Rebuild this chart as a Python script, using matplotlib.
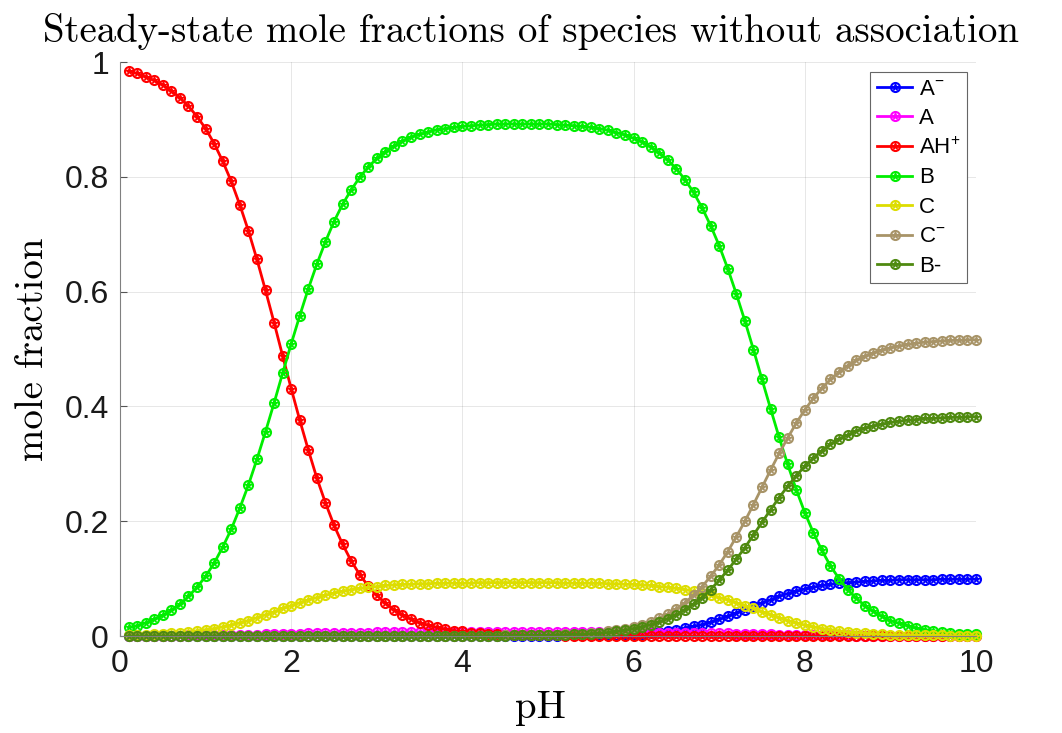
import numpy as np
import matplotlib
matplotlib.use("Agg")
import matplotlib.pyplot as plt
from matplotlib.legend_handler import HandlerTuple

# pH grid of the simulation: 0.1, 0.2, ..., 10
ph = np.round(np.arange(1, 101) * 0.1, 1)

# mole fractions, in thousandths
a_minus = [0] * 51 + [1, 1, 1, 1, 1, 2, 2, 3, 4, 4, 6, 7, 9, 11, 14, 17, 20, 24, 29, 34, 40, 46, 52, 58, 63,
                      69, 74, 78, 82, 85, 88, 90, 92, 93, 94, 95, 96, 97, 97, 98, 98, 98, 98, 98, 99, 99, 99, 99, 99]
a_neutral = ([0] * 7 + [1, 1, 1, 1, 1, 1, 2, 2, 2, 3, 3, 4, 4, 4, 5, 5, 5, 6, 6, 6, 6, 6] + [7] * 33
             + [6, 6, 6, 6, 6, 6, 5, 5, 5, 4, 4, 3, 3, 3, 2, 2, 2, 1, 1, 1, 1, 1, 1] + [0] * 15)
ah_plus = [984, 980, 974, 968, 960, 950, 938, 923, 905, 884, 858, 827, 792, 751, 706, 656, 602, 546, 488, 431,
           376, 324, 275, 232, 193, 160, 131, 107, 87, 71, 57, 46, 37, 29, 23, 19, 15, 12, 9, 8, 6, 5, 4, 3,
           2, 2, 2, 1, 1, 1, 1] + [0] * 49
b_neutral = [15, 18, 23, 29, 36, 45, 55, 69, 85, 104, 127, 155, 186, 223, 263, 308, 356, 406, 458, 509,
             558, 605, 648, 687, 722, 752, 777, 799, 817, 832, 844, 854, 862, 869, 874, 878, 882, 884, 886, 888,
             889, 890, 891, 892, 892, 892, 892, 892, 892, 892, 891, 890, 889, 888, 886, 884, 881, 877, 873, 867,
             861, 852, 842, 829, 814, 795, 773, 746, 715, 680, 640, 596, 549, 499, 447, 396, 346, 299, 255, 215,
             180, 149, 122, 100, 81, 66, 53, 43, 34, 27, 22, 18, 14, 11, 9, 7, 6, 4, 4, 3]
c_neutral = [2, 2, 2, 3, 4, 5, 6, 7, 9, 11, 13, 16, 19, 23, 27, 32, 37, 42, 48, 53, 58, 63, 67, 71, 75, 78, 81, 83, 85,
             86, 88, 89, 90, 90, 91, 91, 92, 92, 92, 92, 92, 93, 93, 93, 93, 93, 93, 93, 93, 93, 93, 92, 92, 92, 92,
             92, 91, 91, 90, 90, 89, 88, 86, 85, 83, 81, 78, 75, 71, 67, 63, 58, 53, 48, 42, 37, 32, 27, 23, 19, 16,
             13, 11, 9, 7, 6, 5, 4, 3, 2, 2, 2, 1, 1, 1, 1] + [0] * 4
c_minus = [0] * 44 + [1, 1, 1, 1, 1, 2, 2, 3, 3, 4, 5, 6, 8, 10, 13, 16, 20, 25, 31, 38, 47, 58, 71, 86, 104, 124, 147,
                      173, 200, 229, 259, 289, 318, 345, 371, 394, 414, 432, 447, 460, 471, 480, 487, 493, 498, 502,
                      505, 508, 510, 512, 513, 514, 515, 515, 516, 516]
b_minus = [0] * 45 + [1, 1, 1, 1, 1, 2, 2, 3, 3, 4, 5, 6, 8, 10, 13, 16, 20, 24, 30, 37, 46, 56, 67, 81, 97, 115, 134,
                      154, 176, 198, 220, 241, 261, 279, 296, 310, 323, 334, 343, 350, 357, 362, 366, 369, 372, 374,
                      376, 377, 379, 379, 380, 381, 381, 382, 382]

series = [a_minus, a_neutral, ah_plus, b_neutral, c_neutral, c_minus, b_minus]
labels = [r'A$^{\mathrm{-}}$', 'A', r'AH$^{+}$', 'B', 'C', r'C$^{\mathrm{-}}$', 'B-']
colors = ['#0000ff', '#ff00ff', '#ff0000', '#00ee00', '#dddd00', '#a89468', '#4f8a10']

plt.rcParams['mathtext.fontset'] = 'custom'
plt.rcParams['mathtext.rm'] = 'Liberation Sans'
plt.rcParams['mathtext.it'] = 'Liberation Sans:italic'

fig = plt.figure(figsize=(10.62, 7.33), dpi=100)
ax = fig.add_axes([120 / 1062, 97 / 733, 856 / 1062, 574 / 733])

handles = []
for y, lab, c in zip(series, labels, colors):
    y = np.array(y) / 1000.0
    # open circle with a star inside, like the original markers
    l1, = ax.plot(ph, y, '-o', color=c, lw=2, ms=6.5, mfc='none', mew=1.5, clip_on=False)
    l2, = ax.plot(ph, y, '*', color=c, ms=5.5, mew=0.9, clip_on=False)
    handles.append((l1, l2))

ax.set_xlim(0, 10)
ax.set_ylim(0, 1)
ax.set_xticks([0, 2, 4, 6, 8, 10])
ax.set_yticks([0, 0.2, 0.4, 0.6, 0.8, 1])
ax.set_yticklabels(['0', '0.2', '0.4', '0.6', '0.8', '1'])
ax.grid(True, color='#262626', alpha=0.13, lw=0.6)
ax.set_axisbelow(True)
for s in ['top', 'right']:
    ax.spines[s].set_visible(False)
for s in ['left', 'bottom']:
    ax.spines[s].set_color('#808080')
    ax.spines[s].set_linewidth(0.8)
ax.tick_params(direction='in', length=5, width=0.8, color='#555555', labelsize=23,
               labelcolor='#1a1a1a')
ax.tick_params(axis='y', pad=8)
ax.tick_params(axis='x', pad=9)
for t in ax.get_xticklabels() + ax.get_yticklabels():
    t.set_fontfamily('Liberation Sans')

fig.text(0.5, 1 - 42 / 733, 'Steady-state mole fractions of species without association',
         family='cmr10', fontsize=28, ha='center', va='baseline')
fig.text(540 / 1062, 1 - 718 / 733, 'pH', family='cmr10', fontsize=28, ha='center', va='baseline')
fig.text(33 / 1062, 1 - 349 / 733, 'mole fraction', family='cmr10', fontsize=28,
         ha='center', va='center', rotation=90)

leg = ax.legend(handles, labels, handler_map={tuple: HandlerTuple(ndivide=1)},
                loc='upper right', bbox_to_anchor=(0.9895, 0.9826), borderaxespad=0,
                prop={'family': 'Liberation Sans', 'size': 16}, fancybox=False,
                framealpha=1, edgecolor='#666666', handlelength=1.6, handletextpad=0.3,
                labelspacing=0.38, borderpad=0.3, numpoints=1)
leg.get_frame().set_linewidth(0.8)

fig.savefig('out.png', dpi=100)
